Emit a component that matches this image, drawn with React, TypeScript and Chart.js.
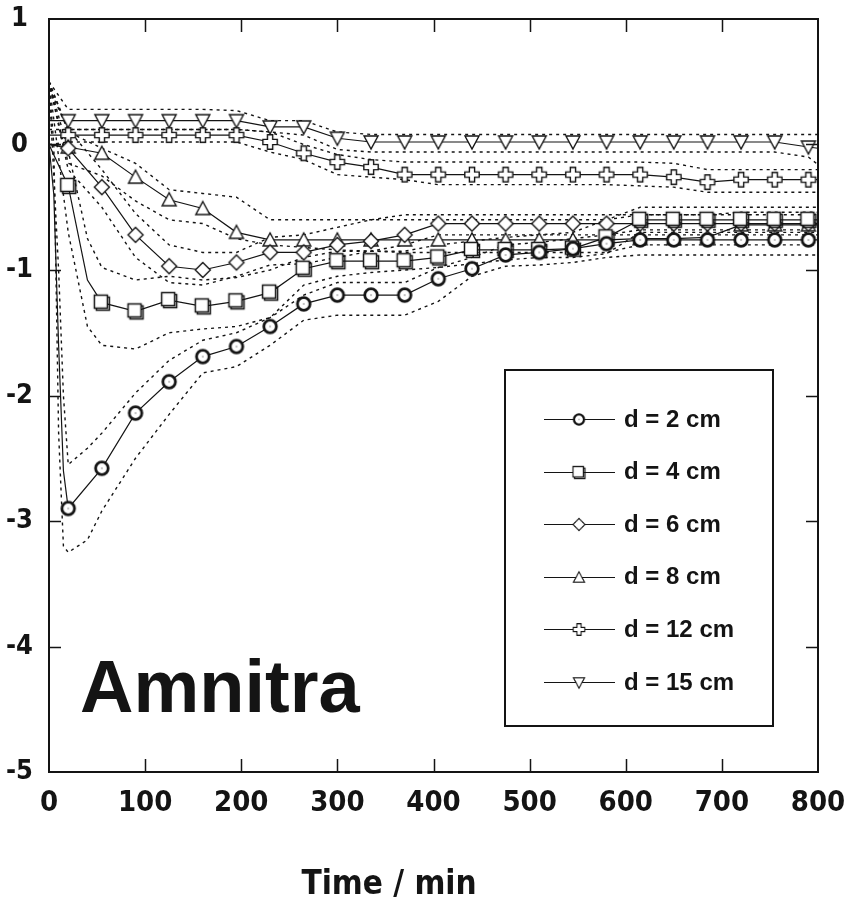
import React, { useEffect, useRef } from 'react';
import { Chart, registerables } from 'chart.js';

Chart.register(...registerables);

// Time axis (min). Markers appear every 35 min starting at 20 min.
const TIME = [0, 5, 10, 15, 20, 40, 55, 90, 125, 160, 195, 230, 265, 300, 335, 370, 405, 440, 475, 510, 545, 580, 615, 650, 685, 720, 755, 790, 800];

const SERIES_LABELS = ['d = 2 cm', 'd = 4 cm', 'd = 6 cm', 'd = 8 cm', 'd = 12 cm', 'd = 15 cm'];

const D2 = [0.0, -0.4, -1.6, -2.6, -2.9, null, -2.58, -2.14, -1.89, -1.69, -1.61, -1.45, -1.27, -1.2, -1.2, -1.2, -1.07, -0.99, -0.88, -0.86, -0.83, -0.79, -0.76, -0.76, -0.76, -0.76, -0.76, -0.76, -0.76];
const D4 = [0.0, null, null, null, -0.33, -1.08, -1.26, -1.33, -1.24, -1.29, -1.25, -1.18, -0.99, -0.93, -0.93, -0.93, -0.9, -0.84, -0.84, -0.84, -0.83, -0.74, -0.6, -0.6, -0.6, -0.6, -0.6, -0.6, -0.6];
const D6 = [0.0, null, null, null, -0.03, null, -0.34, -0.72, -0.97, -1.0, -0.94, -0.86, -0.86, -0.8, -0.77, -0.72, -0.63, -0.63, -0.63, -0.63, -0.63, -0.63, -0.63, -0.63, -0.63, -0.63, -0.63, -0.63, -0.63];
const D8 = [0.0, null, null, null, -0.02, null, -0.07, -0.26, -0.44, -0.51, -0.7, -0.76, -0.76, -0.76, -0.76, -0.76, -0.76, -0.76, -0.76, -0.76, -0.76, -0.76, -0.75, -0.75, -0.74, -0.64, -0.64, -0.64, -0.64];
const D12 = [0.075, null, null, null, 0.075, null, 0.075, 0.075, 0.075, 0.075, 0.075, 0.02, -0.07, -0.14, -0.18, -0.24, -0.24, -0.24, -0.24, -0.24, -0.24, -0.24, -0.24, -0.26, -0.3, -0.28, -0.28, -0.28, -0.28];
const D15 = [0.19, null, null, null, 0.19, null, 0.19, 0.19, 0.19, 0.19, 0.19, 0.14, 0.14, 0.05, 0.02, 0.02, 0.02, 0.02, 0.02, 0.02, 0.02, 0.02, 0.02, 0.02, 0.02, 0.02, 0.02, -0.02, -0.03];

// Confidence bands (dotted)
const U2 = [0.5, null, -1.0, -2.0, -2.55, -2.42, -2.3, -1.98, -1.72, -1.56, -1.5, -1.38, -1.2, -1.1, -1.1, -1.1, -0.98, -0.9, -0.8, -0.78, -0.75, -0.72, -0.68, -0.68, -0.68, -0.68, -0.68, -0.68, -0.68];
const L2 = [0.5, 0.0, -2.3, -3.2, -3.25, -3.15, -2.92, -2.5, -2.15, -1.82, -1.77, -1.6, -1.4, -1.36, -1.36, -1.36, -1.25, -1.05, -0.97, -0.96, -0.94, -0.9, -0.88, -0.88, -0.88, -0.88, -0.88, -0.88, -0.88];
const U4 = [0.5, null, null, null, -0.05, -0.75, -0.98, -1.08, -1.05, -1.08, -1.06, -1.0, -0.9, -0.85, -0.85, -0.85, -0.8, -0.77, -0.74, -0.72, -0.7, -0.6, -0.5, -0.5, -0.5, -0.5, -0.5, -0.5, -0.5];
const L4 = [0.5, null, null, null, -0.7, -1.45, -1.6, -1.63, -1.5, -1.47, -1.45, -1.38, -1.12, -1.05, -1.02, -1.0, -0.98, -0.95, -0.92, -0.9, -0.9, -0.87, -0.7, -0.7, -0.7, -0.7, -0.7, -0.7, -0.7];
const U6 = [0.5, null, null, null, 0.12, null, -0.2, -0.55, -0.8, -0.86, -0.86, -0.74, -0.72, -0.66, -0.6, -0.56, -0.56, -0.56, -0.56, -0.56, -0.56, -0.56, -0.56, -0.56, -0.56, -0.56, -0.56, -0.56, -0.56];
const L6 = [0.5, null, null, null, -0.2, null, -0.5, -0.9, -1.1, -1.12, -1.05, -0.96, -0.95, -0.9, -0.85, -0.8, -0.72, -0.72, -0.72, -0.72, -0.72, -0.72, -0.72, -0.72, -0.72, -0.72, -0.72, -0.72, -0.72];
const U8 = [0.5, null, null, null, 0.1, null, -0.03, -0.15, -0.36, -0.39, -0.42, -0.6, -0.6, -0.6, -0.6, -0.6, -0.6, -0.6, -0.6, -0.6, -0.6, -0.6, -0.56, -0.56, -0.56, -0.54, -0.54, -0.54, -0.54];
const L8 = [0.5, null, null, null, -0.15, null, -0.25, -0.45, -0.6, -0.63, -0.75, -0.8, -0.82, -0.84, -0.85, -0.86, -0.86, -0.86, -0.86, -0.86, -0.86, -0.86, -0.8, -0.8, -0.8, -0.8, -0.8, -0.8, -0.8];
const U12 = [0.45, null, null, null, 0.12, null, 0.12, 0.12, 0.12, 0.12, 0.12, 0.1, 0.0, -0.08, -0.12, -0.14, -0.14, -0.14, -0.14, -0.14, -0.14, -0.14, -0.14, -0.15, -0.2, -0.2, -0.2, -0.2, -0.2];
const L12 = [0.0, null, null, null, 0.02, null, 0.02, 0.02, 0.02, 0.02, 0.02, -0.06, -0.12, -0.24, -0.26, -0.28, -0.32, -0.32, -0.32, -0.32, -0.32, -0.32, -0.33, -0.34, -0.38, -0.38, -0.38, -0.38, -0.38];
const U15 = [0.5, null, null, null, 0.28, null, 0.28, 0.28, 0.28, 0.28, 0.27, 0.19, 0.19, 0.1, 0.08, 0.08, 0.08, 0.08, 0.08, 0.08, 0.08, 0.08, 0.08, 0.08, 0.08, 0.08, 0.08, 0.08, 0.08];
const L15 = [0.12, null, null, null, 0.12, null, 0.12, 0.12, 0.12, 0.12, 0.12, 0.1, 0.075, -0.04, -0.06, -0.06, -0.06, -0.06, -0.06, -0.06, -0.06, -0.06, -0.06, -0.06, -0.06, -0.06, -0.06, -0.1, -0.16];

const SERIES = [D2, D4, D6, D8, D12, D15];
const UPPER = [U2, U4, U6, U8, U12, U15];
const LOWER = [L2, L4, L6, L8, L12, L15];

const X_TICKS = [100, 200, 300, 400, 500, 600, 700];
const Y_TICKS = [-4, -3, -2, -1, 0];
const X_TITLE = 'Time / min';
const PANEL_LABEL = 'Amnitra';

const INK = '#141414';
const NARROW = "'Liberation Sans Narrow', 'Arial Narrow', 'DejaVu Sans Condensed', sans-serif";
const SANS = "'Liberation Sans', Arial, sans-serif";

function makeCanvas(size: number, draw: (g: CanvasRenderingContext2D, s: number) => void) {
  const c = document.createElement('canvas');
  c.width = size;
  c.height = size;
  const g = c.getContext('2d')!;
  g.strokeStyle = INK;
  g.fillStyle = '#fff';
  g.lineJoin = 'miter';
  draw(g, size);
  return c;
}

function makeMarkers() {
  const circle = makeCanvas(20, (g) => {
    g.lineWidth = 2.8;
    g.beginPath();
    g.arc(10, 10, 6.3, 0, Math.PI * 2);
    g.fill();
    g.stroke();
    g.fillStyle = INK;
    g.fillRect(9.5, 9.5, 1, 1);
  });
  const square = makeCanvas(22, (g) => {
    g.lineWidth = 1.5;
    g.strokeRect(5.5, 5.5, 13, 13);
    g.fillRect(3.5, 3.5, 13, 13);
    g.strokeRect(3.5, 3.5, 13, 13);
  });
  const diamond = makeCanvas(20, (g) => {
    g.lineWidth = 1.4;
    g.beginPath();
    g.moveTo(10, 2.5);
    g.lineTo(17.5, 10);
    g.lineTo(10, 17.5);
    g.lineTo(2.5, 10);
    g.closePath();
    g.fill();
    g.stroke();
  });
  const triangle = makeCanvas(20, (g) => {
    g.lineWidth = 1.4;
    g.beginPath();
    g.moveTo(10, 3);
    g.lineTo(17, 16);
    g.lineTo(3, 16);
    g.closePath();
    g.fill();
    g.stroke();
  });
  const plus = makeCanvas(20, (g) => {
    g.lineWidth = 1.4;
    const a = 2.6, e = 7.2, c = 10;
    g.beginPath();
    g.moveTo(c - a, c - e);
    g.lineTo(c + a, c - e);
    g.lineTo(c + a, c - a);
    g.lineTo(c + e, c - a);
    g.lineTo(c + e, c + a);
    g.lineTo(c + a, c + a);
    g.lineTo(c + a, c + e);
    g.lineTo(c - a, c + e);
    g.lineTo(c - a, c + a);
    g.lineTo(c - e, c + a);
    g.lineTo(c - e, c - a);
    g.lineTo(c - a, c - a);
    g.closePath();
    g.fill();
    g.stroke();
  });
  const invTriangle = makeCanvas(20, (g) => {
    g.lineWidth = 1.4;
    g.beginPath();
    g.moveTo(3, 4);
    g.lineTo(17, 4);
    g.lineTo(10, 17);
    g.closePath();
    g.fill();
    g.stroke();
  });
  return [circle, square, diamond, triangle, plus, invTriangle];
}

function isMarker(t: number) {
  return t >= 20 && t <= 790 && (t - 20) % 35 === 0;
}

function toPoints(values: (number | null)[]) {
  return TIME.map((t, i) => ({ x: t, y: values[i] }));
}

export default function App() {
  const ref = useRef<HTMLCanvasElement | null>(null);

  useEffect(() => {
    document.body.style.margin = '0';
    document.body.style.overflow = 'hidden';
    const canvas = ref.current;
    if (!canvas) return;
    const markers = makeMarkers();

    const mainSets = SERIES.map((vals, i) => ({
      label: SERIES_LABELS[i],
      data: toPoints(vals),
      borderColor: INK,
      borderWidth: 1.2,
      backgroundColor: '#fff',
      pointStyle: markers[i] as any,
      pointRadius: (ctx: any) => (isMarker(TIME[ctx.dataIndex]) ? 8 : 0),
      tension: 0,
      spanGaps: true,
    }));
    const bandSets: any[] = [];
    UPPER.forEach((vals, i) => {
      bandSets.push({
        label: SERIES_LABELS[i] + ' upper',
        data: toPoints(vals),
        borderColor: INK,
        borderWidth: 1.4,
        borderDash: [3, 4],
        pointRadius: 0,
        tension: 0,
        spanGaps: true,
      });
      bandSets.push({
        label: SERIES_LABELS[i] + ' lower',
        data: toPoints(LOWER[i]),
        borderColor: INK,
        borderWidth: 1.4,
        borderDash: [3, 4],
        pointRadius: 0,
        tension: 0,
        spanGaps: true,
      });
    });

    const decor = {
      id: 'decor',
      afterDatasetsDraw(chart: any) {
        const { ctx, chartArea: ca, scales } = chart;
        ctx.save();
        ctx.strokeStyle = INK;
        ctx.lineWidth = 2;
        ctx.beginPath();
        ctx.moveTo(ca.left, ca.top);
        ctx.lineTo(ca.right, ca.top);
        ctx.lineTo(ca.right, ca.bottom);
        ctx.stroke();
        ctx.lineWidth = 1.5;
        ctx.beginPath();
        X_TICKS.forEach((v) => {
          const px = Math.round(scales.x.getPixelForValue(v)) + 0.5;
          ctx.moveTo(px, ca.bottom);
          ctx.lineTo(px, ca.bottom - 13);
          ctx.moveTo(px, ca.top);
          ctx.lineTo(px, ca.top + 13);
        });
        Y_TICKS.forEach((v) => {
          const py = Math.round(scales.y.getPixelForValue(v)) + 0.5;
          ctx.moveTo(ca.left, py);
          ctx.lineTo(ca.left + 12, py);
          ctx.moveTo(ca.right, py);
          ctx.lineTo(ca.right - 12, py);
        });
        ctx.stroke();

        // Axis title (placed left of centre, as in the original)
        ctx.fillStyle = INK;
        ctx.font = `bold 33px ${NARROW}`;
        ctx.textAlign = 'center';
        ctx.textBaseline = 'alphabetic';
        ctx.fillText(X_TITLE, 389, 894);

        // Big panel label
        ctx.font = `bold 74px ${SANS}`;
        ctx.textAlign = 'left';
        ctx.fillText(PANEL_LABEL, 80, 712);

        // Legend box
        ctx.fillStyle = '#fff';
        ctx.fillRect(505, 370, 268, 356);
        ctx.lineWidth = 2;
        ctx.strokeRect(505, 370, 268, 356);
        ctx.font = `bold 24px ${SANS}`;
        ctx.textBaseline = 'middle';
        SERIES_LABELS.forEach((lab, i) => {
          const y = 419 + i * 52.6;
          ctx.lineWidth = 1.2;
          ctx.beginPath();
          ctx.moveTo(544, Math.round(y) + 0.5);
          ctx.lineTo(615, Math.round(y) + 0.5);
          ctx.stroke();
          const m = markers[i];
          const sc = 0.8;
          ctx.drawImage(m, 579 - (m.width * sc) / 2, Math.round(y) + 0.5 - (m.height * sc) / 2, m.width * sc, m.height * sc);
          ctx.fillStyle = INK;
          ctx.fillText(lab, 624, y + 1);
        });
        ctx.restore();
      },
    };

    const chart = new Chart(canvas, {
      type: 'line',
      data: { datasets: [...mainSets, ...bandSets] as any },
      options: {
        animation: false,
        responsive: false,
        devicePixelRatio: 1,
        events: [],
        layout: { padding: { left: 0, right: 27, top: 19, bottom: 0 } },
        plugins: { legend: { display: false }, tooltip: { enabled: false } },
        scales: {
          x: {
            type: 'linear',
            min: 0,
            max: 800,
            grid: { display: false, drawTicks: false },
            border: { display: true, color: INK, width: 2 },
            ticks: {
              stepSize: 100,
              autoSkip: false,
              maxRotation: 0,
              color: INK,
              padding: 14,
              font: { family: NARROW, size: 29, weight: 'bold' },
            },
            title: { display: false },
            afterFit: (s: any) => {
              s.height = 127;
              s.paddingLeft = 0;
              s.paddingRight = 0;
            },
          },
          y: {
            type: 'linear',
            min: -5,
            max: 1,
            grid: { display: false, drawTicks: false },
            border: { display: true, color: INK, width: 2 },
            ticks: {
              stepSize: 1,
              color: INK,
              padding: 16,
              crossAlign: 'center',
              font: { family: NARROW, size: 27, weight: 'bold' },
            },
            afterFit: (s: any) => {
              s.width = 49;
              s.paddingTop = 0;
              s.paddingBottom = 0;
            },
          },
        },
      } as any,
      plugins: [decor],
    });
    return () => chart.destroy();
  }, []);

  return <canvas ref={ref} width={845} height={899} style={{ display: 'block', width: 845, height: 899 }} />;
}
